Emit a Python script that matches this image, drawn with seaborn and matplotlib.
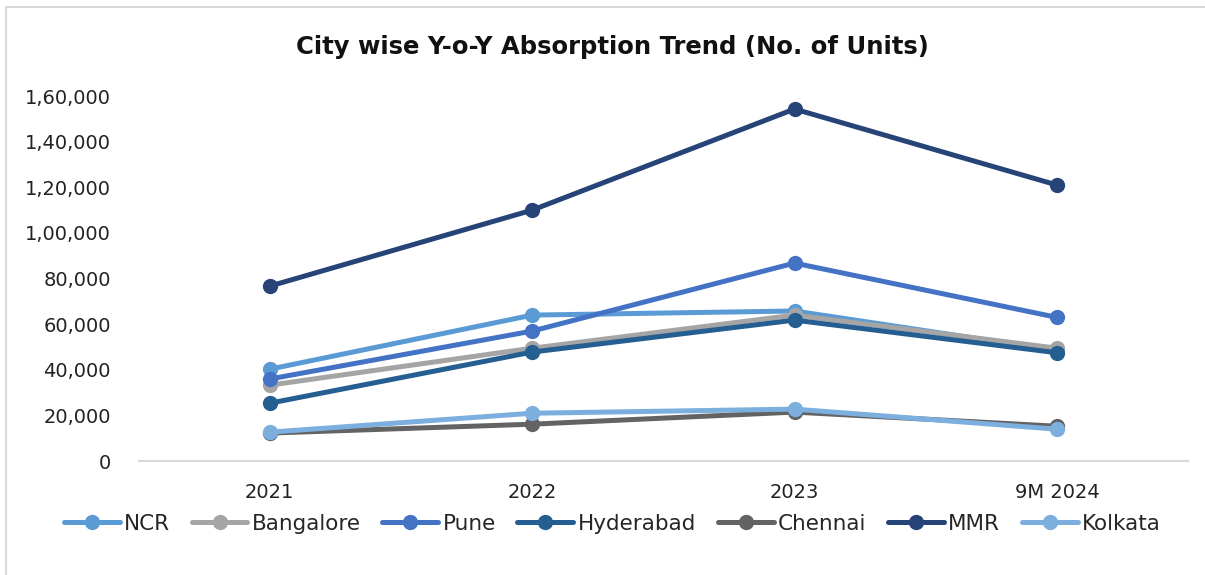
import numpy as np
import pandas as pd
import matplotlib
matplotlib.use("Agg")
import matplotlib.pyplot as plt
import seaborn as sns
from matplotlib.ticker import FuncFormatter
from matplotlib.patches import Rectangle

# data
years = ["2021", "2022", "2023", "9M 2024"]
cities = ["NCR", "Bangalore", "Pune", "Hyderabad", "Chennai", "MMR", "Kolkata"]
ncr = [40300, 64000, 65800, 48500]
bangalore = [33300, 49500, 64000, 49500]
pune = [36000, 57000, 86800, 63000]
hyderabad = [25400, 47800, 61800, 47500]
chennai = [12300, 16200, 21500, 15300]
mmr = [76700, 110000, 154300, 121000]
kolkata = [12700, 21000, 22800, 14000]

colors = ["#5B9BD5", "#A5A5A5", "#4472C4", "#255E91", "#636363", "#264478", "#7CAFDD"]

series = [ncr, bangalore, pune, hyderabad, chennai, mmr, kolkata]
rows = []
for city, vals in zip(cities, series):
    for i, v in enumerate(vals):
        rows.append({"year": i, "city": city, "units": v})
df = pd.DataFrame(rows)


def indian_fmt(x, pos):
    n = int(round(x))
    s = str(n)
    if len(s) <= 3:
        return s
    last3 = s[-3:]
    rest = s[:-3]
    parts = []
    while len(rest) > 2:
        parts.insert(0, rest[-2:])
        rest = rest[:-2]
    if rest:
        parts.insert(0, rest)
    return ",".join(parts) + "," + last3


sns.set_style("white")
plt.rcParams['font.family'] = ['DejaVu Sans']

fig = plt.figure(figsize=(12.05, 5.75), dpi=100)
ax = fig.add_axes([0.115, 0.198, 0.871, 0.635])

lw = 3.6
ms = 11
sns.lineplot(data=df, x="year", y="units", hue="city", hue_order=cities,
             palette=colors, marker="o", markersize=ms, markeredgewidth=0,
             linewidth=lw, ax=ax, legend=False)

ax.set_xlim(-0.5, 3.5)
ax.set_ylim(0, 160000)
ax.set_yticks(np.arange(0, 160001, 20000))
ax.yaxis.set_major_formatter(FuncFormatter(indian_fmt))
ax.set_xticks(range(len(years)))
ax.set_xticklabels(years)
ax.tick_params(axis="both", length=0, labelsize=14, colors="#222222")
ax.tick_params(axis="x", pad=16)
ax.tick_params(axis="y", pad=20)
ax.set_xlabel("")
ax.set_ylabel("")
for side in ["top", "right", "left"]:
    ax.spines[side].set_visible(False)
ax.spines["bottom"].set_color("#D9D9D9")
ax.spines["bottom"].set_linewidth(1.5)

fig.text(0.508, 0.918, "City wise Y-o-Y Absorption Trend (No. of Units)",
         ha="center", va="center", fontsize=17.5, fontweight="bold", color="#111111")

handles = [plt.Line2D([], [], color=c, linewidth=lw, marker="o", markersize=ms,
                      markeredgewidth=0) for c in colors]
fig.legend(handles, cities, loc="center", bbox_to_anchor=(0.508, 0.089), ncol=7,
           frameon=False, fontsize=15.5, handlelength=2.6, columnspacing=1.0,
           handletextpad=0.2)

fig.patches.append(Rectangle((0.005, -0.01), 1.0, 0.998, transform=fig.transFigure,
                             fill=False, edgecolor="#D9D9D9", linewidth=1.5))

fig.savefig("out.png", dpi=100)
